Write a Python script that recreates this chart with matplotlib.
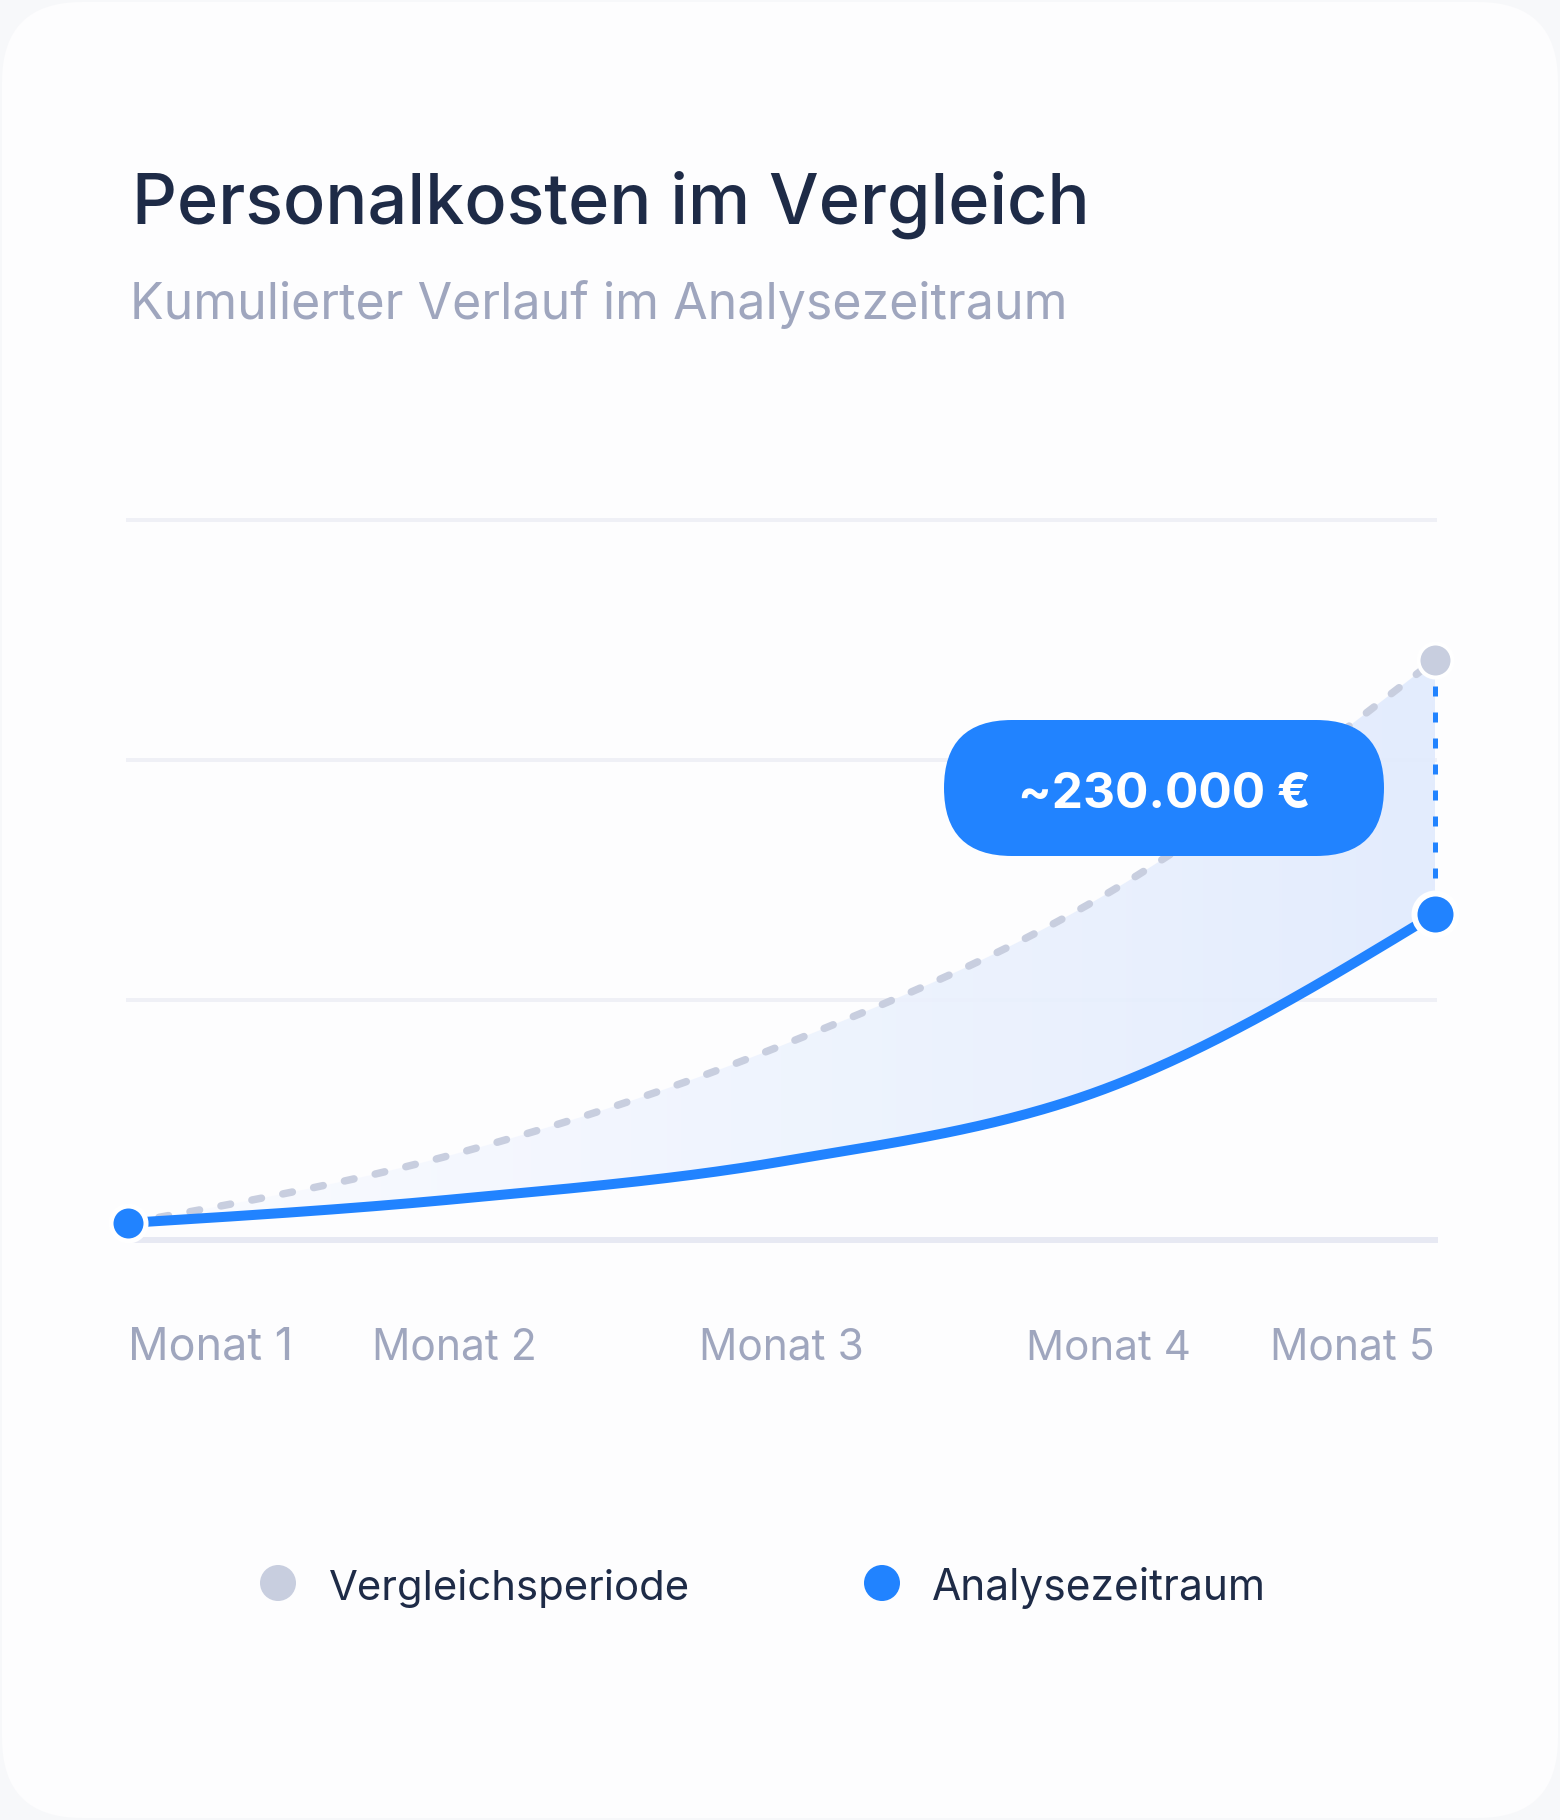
import numpy as np
import matplotlib
matplotlib.use("Agg")
import matplotlib.pyplot as plt
from matplotlib.patches import FancyBboxPatch, PathPatch, Circle
from matplotlib.path import Path
from matplotlib.colors import to_rgba
import matplotlib.transforms as mtransforms

# ---------------- data ----------------
months = ["Monat 1", "Monat 2", "Monat 3", "Monat 4", "Monat 5"]
vergleich = [7.1, 35.8, 81.0, 144.6, 241.7]      # cumulative cost, comparison period
analyse = [7.1, 17.0, 32.7, 63.5, 135.8]         # cumulative cost, analysis period
grid_values = [0, 100, 200, 300]
title = "Personalkosten im Vergleich"
subtitle = "Kumulierter Verlauf im Analysezeitraum"
badge_label = "~230.000 €"
legend_labels = ["Vergleichsperiode", "Analysezeitraum"]

BLUE = "#2183FF"
GRAY = "#C8CEDF"
NAVY = "#1E2B47"
MUTED = "#9FA6BE"
FONT = ["Inter", "DejaVu Sans"]

W, H = 1560, 1820
fig = plt.figure(figsize=(W / 100, H / 100), dpi=100)
fig.patch.set_facecolor("#F7F8FA")


def overlay():
    a = fig.add_axes([0, 0, 1, 1])
    a.set_xlim(0, W)
    a.set_ylim(H, 0)
    a.axis("off")
    a.patch.set_alpha(0)
    return a


bg = overlay()
bg.add_patch(FancyBboxPatch((2, 2), W - 4, H - 4,
                            boxstyle="round,pad=0,rounding_size=80",
                            fc="#FDFDFE", ec="none", zorder=0))


def px2pt(p):
    return p * 72 / 100


# chart axes
x0, x1 = 128, 1435
yb, yt = 1240, 520
ax = fig.add_axes([x0 / W, 1 - yb / H, (x1 - x0) / W, (yb - yt) / H])
ax.set_xlim(0, len(months) - 1)
ax.set_ylim(grid_values[0], grid_values[-1])
ax.axis("off")
ax.patch.set_alpha(0)

xs = np.arange(len(months), dtype=float)


def monotone_x(x, y, n=80):
    """Monotone cubic interpolation (same tangents as d3.curveMonotoneX)."""
    x = np.asarray(x, float)
    y = np.asarray(y, float)
    h = np.diff(x)
    s = np.diff(y) / h
    m = np.zeros_like(y)
    for i in range(1, len(y) - 1):
        p = (s[i - 1] * h[i] + s[i] * h[i - 1]) / (h[i - 1] + h[i])
        m[i] = (np.sign(s[i - 1]) + np.sign(s[i])) * min(abs(s[i - 1]), abs(s[i]), 0.5 * abs(p))
    m[0] = (3 * s[0] - m[1]) / 2
    m[-1] = (3 * s[-1] - m[-2]) / 2
    X, Y = [], []
    for i in range(len(x) - 1):
        t = np.linspace(0, 1, n, endpoint=(i == len(x) - 2))
        h00 = 2 * t**3 - 3 * t**2 + 1
        h10 = t**3 - 2 * t**2 + t
        h01 = -2 * t**3 + 3 * t**2
        h11 = t**3 - t**2
        X.append(x[i] + t * h[i])
        Y.append(h00 * y[i] + h10 * h[i] * m[i] + h01 * y[i + 1] + h11 * h[i] * m[i + 1])
    return np.concatenate(X), np.concatenate(Y)


sx, s_ana = monotone_x(xs, analyse)
_, s_ver = monotone_x(xs, vergleich)

# grid lines
for g in grid_values:
    if g == grid_values[0]:
        ax.axhline(g, color="#E7E9F3", lw=px2pt(6), zorder=1, clip_on=False)
    else:
        ax.axhline(g, color="#EFF0F6", lw=px2pt(4), zorder=1, clip_on=False)

# gradient fill between curves
verts = np.vstack([np.column_stack([sx, s_ver]), np.column_stack([sx[::-1], s_ana[::-1]])])
clip = PathPatch(Path(verts, closed=True), transform=ax.transData, fc="none", ec="none")
ax.add_patch(clip)
c0 = np.array(to_rgba("#FBFCFF"))
c1 = np.array(to_rgba("#E1EBFD"))
tt = np.linspace(0, 1, 256)[None, :, None]
grad = c0[None, None, :] * (1 - tt) + c1[None, None, :] * tt
grad[..., 3] = 0.9
im = ax.imshow(grad, extent=[0, len(months) - 1, grid_values[0], grid_values[-1]],
               aspect="auto", origin="lower", zorder=2, interpolation="bilinear")
im.set_clip_path(clip)

# comparison (dashed gray)
lw_g = px2pt(7.5)
ax.plot(sx, s_ver, color=GRAY, lw=lw_g, linestyle=(0, (1.3, 2.9)),
        dash_capstyle="round", zorder=3, clip_on=False)

# dotted vertical difference line
ax.plot([xs[-1], xs[-1]], [vergleich[-1], analyse[-1]], color=BLUE, lw=px2pt(5),
        linestyle=(0, (2.0, 3.2)), dash_capstyle="butt", zorder=3, clip_on=False)

# analysis (solid blue)
ax.plot(sx, s_ana, color=BLUE, lw=px2pt(10), solid_capstyle="round", zorder=4, clip_on=False)

# markers
ax.plot([xs[0]], [analyse[0]], "o", ms=px2pt(35), mfc=BLUE, mec="white",
        mew=px2pt(5), zorder=6, clip_on=False)
ax.plot([xs[-1]], [vergleich[-1]], "o", ms=px2pt(34), mfc=GRAY, mec="white",
        mew=px2pt(4), zorder=6, clip_on=False)
ax.plot([xs[-1]], [analyse[-1]], "o", ms=px2pt(42), mfc=BLUE, mec="white",
        mew=px2pt(6), zorder=6, clip_on=False)

top = overlay()
renderer = fig.canvas.get_renderer()


def fit(t, target_w):
    bb = t.get_window_extent(renderer)
    t.set_fontsize(t.get_fontsize() * target_w / bb.width)


# title / subtitle
t1 = bg.text(132, 224, title, fontsize=50, fontweight="medium", color=NAVY,
             family=FONT, va="baseline", ha="left", zorder=5)
fit(t1, 958)
t2 = bg.text(130, 319, subtitle, fontsize=34, color=MUTED, family=FONT,
             va="baseline", ha="left", zorder=5)
fit(t2, 937)

# month labels
trans = mtransforms.blended_transform_factory(ax.transData, bg.transData)
for i, m in enumerate(months):
    ha = "center"
    if i == 0:
        ha = "left"
    elif i == len(months) - 1:
        ha = "right"
    tm = ax.text(xs[i], 1360, m, transform=trans, ha=ha, va="baseline", fontsize=30,
                 color=MUTED, family=FONT, clip_on=False)
    fit(tm, 165)

# badge (on top of the chart)
bx0, bx1, by0, by1 = 944, 1384, 720, 856
top.add_patch(FancyBboxPatch((bx0, by0), bx1 - bx0, by1 - by0,
                             boxstyle="round,pad=0,rounding_size=68",
                             fc=BLUE, ec="none", zorder=8))
tb = top.text((bx0 + bx1) / 2, 808, badge_label, ha="center", va="baseline",
              fontsize=40, fontweight="bold", color="white", family=FONT, zorder=9)
fit(tb, 292)

# legend
legend_colors = [GRAY, BLUE]
dot_x = [278, 882]
text_x = [329, 932]
text_w = [361, 334]
for lab, col, dx, tx, tw in zip(legend_labels, legend_colors, dot_x, text_x, text_w):
    bg.add_patch(Circle((dx, 1583), 18, fc=col, ec="none", zorder=5))
    tl = bg.text(tx, 1600, lab, ha="left", va="baseline", fontsize=32, color=NAVY,
                 family=FONT, zorder=5)
    fit(tl, tw)

fig.savefig("out.png", dpi=100, facecolor=fig.get_facecolor())
